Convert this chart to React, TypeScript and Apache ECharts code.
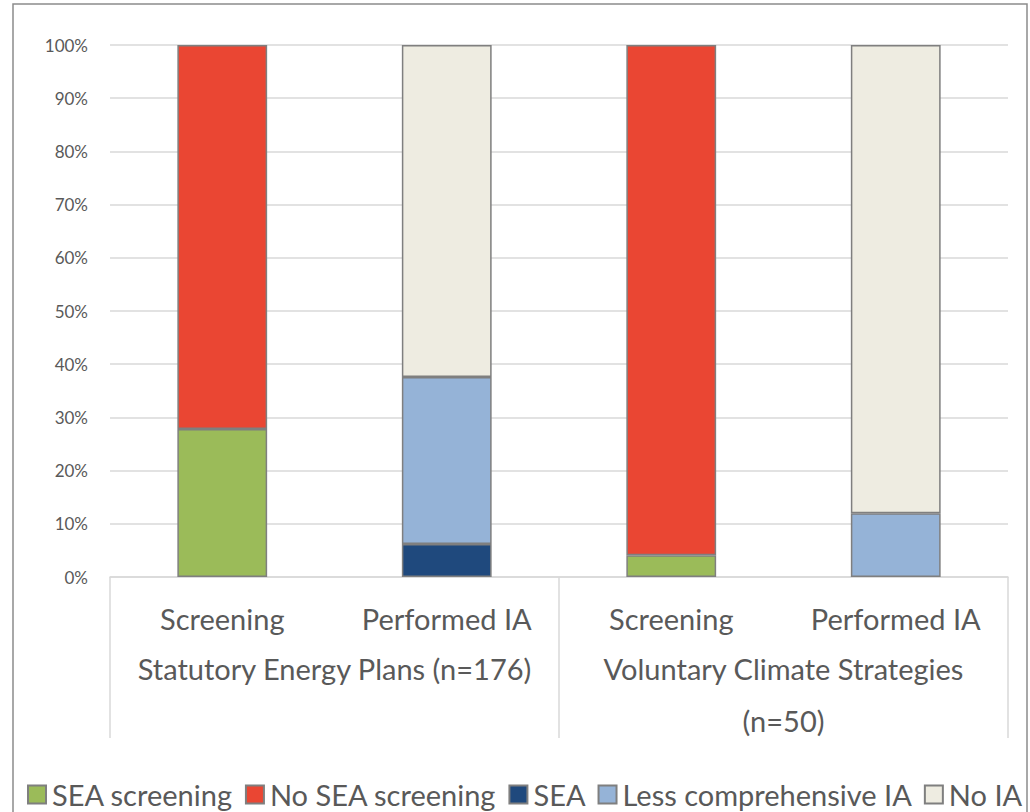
import React, { useEffect, useRef } from "react";
import * as echarts from "echarts";

const subCategories = ["Screening", "Performed IA", "Screening", "Performed IA"];
const groupCategories = ["Statutory Energy Plans (n=176)", "Voluntary Climate Strategies\n(n=50)"];
const seaScreening = [27.8, null, 4.1, null];
const noSeaScreening = [72.2, null, 95.9, null];
const sea = [null, 6.2, null, null];
const lessComprehensive = [null, 31.4, null, 12.0];
const noIA = [null, 62.4, null, 88.0];
const yTicks = [0, 10, 20, 30, 40, 50, 60, 70, 80, 90, 100];

const FONT = "Lato";
const TXT = "#595959";

export default function App() {
  const ref = useRef<HTMLDivElement>(null);
  useEffect(() => {
    if (!ref.current) return;
    const chart = echarts.init(ref.current, null, { renderer: "svg" });
    const mk = (name: string, data: (number | null)[], color: string) => ({
      name,
      type: "bar",
      stack: "total",
      data,
      barWidth: "40%",
      itemStyle: { color, borderColor: "#7f7f7f", borderWidth: 1.5 },
    });
    chart.setOption({
      animation: false,
      backgroundColor: "#ffffff",
      textStyle: { fontFamily: FONT },
      graphic: [
        {
          type: "rect",
          shape: { x: 13, y: 4, width: 1014, height: 830 },
          style: { fill: "none", stroke: "#8c8c8c", lineWidth: 1.5 },
          z: -1,
        },
      ],
      grid: { left: 110, right: 22, top: 45, bottom: 235 },
      legend: {
        bottom: 3,
        left: 27,
        width: 1003,
        padding: 0,
        icon: "rect",
        itemWidth: 18,
        itemHeight: 18,
        itemGap: 12,
        textStyle: { fontSize: 29, color: TXT, fontFamily: FONT, padding: [0, 0, 0, 1] },
        data: ["SEA screening", "No SEA screening", "SEA", "Less comprehensive IA", "No IA"],
      },
      xAxis: [
        {
          type: "category",
          data: subCategories,
          position: "bottom",
          axisLine: { show: true, lineStyle: { color: "#d9d9d9", width: 1.5 } },
          axisTick: { show: false },
          axisLabel: { fontSize: 29, color: TXT, margin: 27, fontFamily: FONT, interval: 0 },
        },
        {
          type: "category",
          data: groupCategories,
          position: "bottom",
          axisLine: { show: false },
          axisTick: { show: true, length: 161, interval: 0, lineStyle: { color: "#d9d9d9", width: 1.5 } },
          axisLabel: {
            fontSize: 29,
            color: TXT,
            margin: 65,
            lineHeight: 52,
            fontFamily: FONT,
            interval: 0,
            verticalAlign: "top",
          },
        },
      ],
      yAxis: {
        type: "value",
        min: yTicks[0],
        max: yTicks[yTicks.length - 1],
        interval: 10,
        axisLine: { show: false },
        axisTick: { show: false },
        splitLine: { lineStyle: { color: "#d9d9d9", width: 1.5 } },
        axisLabel: { formatter: "{value}%", fontSize: 17, color: TXT, margin: 22, fontFamily: FONT },
      },
      series: [
        mk("SEA screening", seaScreening, "#9bbb59"),
        mk("No SEA screening", noSeaScreening, "#ea4633"),
        mk("SEA", sea, "#1f497d"),
        mk("Less comprehensive IA", lessComprehensive, "#95b3d7"),
        mk("No IA", noIA, "#eeece1"),
      ],
    });
    return () => chart.dispose();
  }, []);
  return (
    <div
      ref={ref}
      style={{ position: "fixed", left: 0, top: 0, width: 1030, height: 812 }}
    />
  );
}
